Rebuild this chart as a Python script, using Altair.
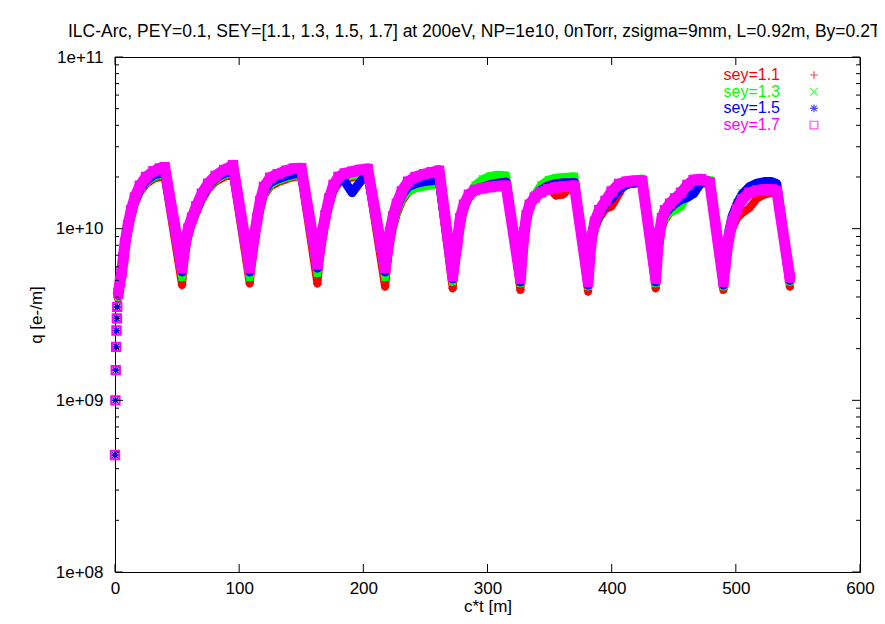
import altair as alt
import pandas as pd

TITLE = "ILC-Arc, PEY=0.1, SEY=[1.1, 1.3, 1.5, 1.7] at 200eV, NP=1e10, 0nTorr, zsigma=9mm, L=0.92m, By=0.2T"
SERIES = ["sey=1.1", "sey=1.3", "sey=1.5", "sey=1.7"]
COLORS = ["#ff0000", "#00ff00", "#0000ff", "#ff00ff"]
X_TICKS = [0, 100, 200, 300, 400, 500, 600]
Y_TICKS = [1e8, 1e9, 1e10, 1e11]
Y_MINOR = [2e8, 3e8, 4e8, 5e8, 6e8, 7e8, 8e8, 9e8,
           2e9, 3e9, 4e9, 5e9, 6e9, 7e9, 8e9, 9e9,
           2e10, 3e10, 4e10, 5e10, 6e10, 7e10, 8e10, 9e10]

# c*t [m]
CT = [0, 0.3, 0.6, 0.9, 1.2, 1.5, 1.8, 2.7, 4, 5.4, 6.7, 8.1, 10.5, 13, 16, 20, 25, 31, 36, 40,
      54, 55.5, 57, 59, 62, 65.5, 70, 75, 81, 88, 95,
      108.5, 110.5, 112.5, 114.5, 117, 120, 125, 131, 138, 144, 150,
      163, 165, 167, 169.5, 172.5, 176, 180, 185, 191, 197, 203.5,
      217.5, 219.5, 221.5, 224, 227, 231, 236, 242, 249, 255, 261,
      272, 273.5, 275.5, 278, 281, 285, 290, 296, 302, 308, 315,
      326.5, 328, 329.5, 331.5, 334, 338, 343, 349, 355, 361, 370,
      381, 382.5, 384, 386.5, 390, 395, 400, 406, 412, 418, 424.5,
      435.5, 437, 438.5, 440.5, 443, 447, 451, 456, 461, 466, 472, 479,
      490, 491.5, 493, 494.5, 497, 501, 505, 511, 517, 523, 529, 533,
      543.5]

# q in units of 1e9 e-/m
Q_11 = [0.48, 1.0, 1.5, 2.05, 2.55, 3.0, 3.5, 3.9, 4.6, 5.2, 6.2, 7.5, 9.5, 11.6, 14.0, 16.3, 18.2, 19.5, 20.0, 20.1,
        4.7, 6.2, 7.6, 9.0, 10.6, 12.4, 14.7, 16.9, 18.8, 20.0, 20.8,
        4.8, 6.5, 8.3, 10.4, 13.0, 15.6, 17.6, 18.6, 19.4, 20.0, 20.2,
        4.8, 6.7, 8.6, 10.9, 13.7, 16.5, 18.4, 19.4, 19.9, 20.3, 20.6,
        4.6, 6.4, 8.2, 10.2, 12.2, 14.4, 16.3, 17.3, 17.9, 18.3, 18.8,
        4.5, 5.8, 7.4, 10.0, 12.8, 15.4, 17.6, 19.0, 19.8, 20.0, 19.8,
        4.4, 6.2, 8.3, 10.8, 13.0, 15.4, 17.5, 17.5, 15.6, 15.8, 18.5,
        4.3, 6.3, 8.2, 10.0, 11.5, 13.0, 13.5, 16.0, 19.0, 18.2, 18.6,
        4.5, 6.5, 8.3, 10.2, 11.3, 12.4, 13.5, 14.8, 16.5, 17.8, 18.5, 18.2,
        4.4, 5.6, 7.0, 8.3, 10.0, 11.5, 12.3, 13.2, 15.0, 15.8, 16.2, 16.4,
        4.6]
Q_13 = [0.48, 1.0, 1.5, 2.05, 2.55, 3.0, 3.5, 4.0, 4.7, 5.3, 6.3, 7.7, 9.7, 11.9, 14.3, 16.6, 18.6, 20.0, 20.5, 20.6,
        5.2, 6.5, 7.9, 9.3, 10.9, 12.7, 15.0, 17.2, 19.2, 20.5, 21.3,
        5.2, 6.8, 8.6, 10.7, 13.4, 16.0, 18.0, 19.0, 19.8, 20.3, 20.5,
        5.5, 7.1, 8.9, 11.2, 14.0, 16.9, 18.8, 19.8, 20.3, 20.7, 21.0,
        5.2, 6.8, 8.6, 10.6, 12.6, 14.8, 16.5, 17.2, 17.6, 17.9, 18.5,
        4.9, 6.0, 7.6, 10.2, 13.0, 15.8, 18.0, 19.5, 20.3, 20.6, 20.5,
        4.8, 6.4, 8.5, 11.0, 13.3, 15.8, 18.0, 19.3, 19.8, 20.0, 20.2,
        4.6, 6.5, 8.4, 10.3, 12.0, 13.8, 15.8, 17.8, 18.6, 19.2, 19.6,
        4.8, 6.8, 8.6, 10.5, 11.6, 12.4, 12.8, 13.5, 15.5, 17.5, 19.0, 19.2,
        4.6, 6.0, 7.6, 9.0, 11.5, 14.2, 16.2, 17.2, 17.5, 17.8, 17.8, 17.5,
        4.9]
Q_15 = [0.48, 1.0, 1.5, 2.05, 2.55, 3.0, 3.5, 4.1, 4.8, 5.4, 6.5, 7.9, 10.0, 12.2, 14.6, 17.0, 19.0, 20.5, 21.0, 21.2,
        5.6, 6.8, 8.2, 9.6, 11.2, 13.0, 15.3, 17.6, 19.6, 21.0, 21.8,
        5.6, 7.1, 8.9, 11.0, 13.8, 16.5, 18.6, 19.5, 20.3, 20.8, 21.0,
        5.9, 7.4, 9.2, 11.5, 14.4, 17.3, 19.2, 18.8, 16.2, 18.6, 21.0,
        5.6, 7.2, 9.1, 11.2, 13.3, 15.6, 17.5, 18.3, 18.8, 19.0, 19.5,
        5.1, 6.3, 8.0, 11.0, 13.4, 15.4, 16.6, 17.4, 18.0, 18.4, 18.7,
        4.9, 6.8, 9.0, 11.5, 13.5, 15.3, 16.8, 17.8, 18.3, 18.5, 18.6,
        4.7, 6.7, 8.6, 10.5, 12.2, 13.8, 15.0, 17.0, 18.0, 18.6, 18.8,
        4.9, 7.0, 9.0, 11.0, 12.2, 13.2, 14.0, 14.8, 15.2, 16.0, 18.5, 18.5,
        4.7, 6.5, 8.3, 9.8, 11.8, 14.0, 15.8, 17.6, 18.4, 18.8, 18.8, 18.3,
        5.0]
Q_17 = [0.48, 1.0, 1.5, 2.05, 2.55, 3.0, 3.5, 4.2, 4.9, 5.6, 6.8, 8.3, 10.5, 12.8, 15.2, 17.8, 20.0, 21.6, 22.4, 22.8,
        5.9, 7.2, 8.6, 10.0, 11.6, 13.5, 16.0, 18.3, 20.3, 22.0, 23.4,
        5.9, 7.5, 9.3, 11.5, 14.5, 17.5, 19.8, 20.8, 21.8, 22.4, 22.5,
        6.2, 7.8, 9.6, 12.0, 15.0, 18.0, 20.0, 21.0, 21.5, 22.0, 22.3,
        5.9, 7.6, 9.6, 11.8, 14.0, 16.5, 18.8, 20.0, 20.8, 21.3, 21.8,
        5.3, 6.5, 8.2, 11.5, 13.8, 15.8, 16.8, 17.2, 17.5, 17.7, 17.8,
        5.1, 7.2, 9.5, 12.0, 13.8, 15.2, 16.3, 17.0, 17.4, 17.6, 17.8,
        4.9, 7.0, 9.0, 11.0, 12.8, 14.5, 16.5, 18.2, 18.8, 19.0, 19.0,
        5.1, 7.5, 9.5, 11.5, 12.8, 14.0, 15.0, 16.2, 18.0, 19.2, 19.4, 18.6,
        4.9, 6.2, 7.8, 9.0, 11.0, 13.0, 14.8, 16.2, 16.7, 16.9, 16.9, 16.6,
        5.2]

VALUES = [Q_11, Q_13, Q_15, Q_17]

W, H = 745, 515
FONT = "Liberation Sans"
FS = 17

PLUS = "M-1,0L1,0M0,-1L0,1"
CROSS = "M-1,-1L1,1M-1,1L1,-1"
STAR = "M-1,0L1,0M0,-1L0,1M-0.7,-0.7L0.7,0.7M-0.7,0.7L0.7,-0.7"
SHAPES = [PLUS, CROSS, STAR, "square"]
LINE_W = [8, 8, 9, 11]
PT_SIZE = [70, 50, 60, 70]
PT_SW = [1.5, 1.2, 1.2, 2.0]

xscale = alt.Scale(domain=[0, 600], nice=False, zero=False)
yscale = alt.Scale(type="log", domain=[1e8, 1e11], nice=False)
xaxis = alt.Axis(values=X_TICKS, format="d", grid=False, ticks=False, domain=False,
                 labelPadding=8, titlePadding=2, labelFlush=False,
                 labelFont=FONT, labelFontSize=FS, labelColor="black",
                 titleFont=FONT, titleFontSize=FS, titleFontWeight="normal", titleColor="black")
yaxis = alt.Axis(values=Y_TICKS, grid=False, ticks=False, domain=False,
                 labelExpr="'1e+' + format(round(log(datum.value)/LN10), '02d')",
                 labelPadding=12, titlePadding=10,
                 labelFont=FONT, labelFontSize=FS, labelColor="black",
                 titleFont=FONT, titleFontSize=FS, titleFontWeight="normal", titleColor="black")

X = alt.X("ct:Q", scale=xscale, axis=xaxis, title="c*t [m]")
Y = alt.Y("q:Q", scale=yscale, axis=yaxis, title="q [e-/m]")

layers = []
for i, (name, vals) in enumerate(zip(SERIES, VALUES)):
    df = pd.DataFrame({"ct": CT, "q": [v * 1e9 for v in vals], "series": name})
    line = alt.Chart(df).transform_filter("datum.ct >= 2.5").mark_line(
        color=COLORS[i], strokeWidth=LINE_W[i], strokeJoin="round", strokeCap="round"
    ).encode(x=X, y=Y)
    pts = alt.Chart(df).mark_point(
        shape=SHAPES[i], filled=False, color=COLORS[i], size=PT_SIZE[i],
        strokeWidth=PT_SW[i], opacity=1
    ).encode(x=X, y=Y)
    layers += [line, pts]

# inward ticks (gnuplot style) on all four sides
ymaj = pd.DataFrame({"q": Y_TICKS})
ymin = pd.DataFrame({"q": Y_MINOR})
xmaj = pd.DataFrame({"ct": X_TICKS})
tick = dict(color="black", strokeWidth=1)
layers += [
    alt.Chart(ymaj).mark_rule(**tick).encode(y=Y, x=alt.value(0), x2=alt.value(8)),
    alt.Chart(ymaj).mark_rule(**tick).encode(y=Y, x=alt.value(W), x2=alt.value(W - 8)),
    alt.Chart(ymin).mark_rule(**tick).encode(y=Y, x=alt.value(0), x2=alt.value(4)),
    alt.Chart(ymin).mark_rule(**tick).encode(y=Y, x=alt.value(W), x2=alt.value(W - 4)),
    alt.Chart(xmaj).mark_rule(**tick).encode(x=X, y=alt.value(H), y2=alt.value(H - 8)),
    alt.Chart(xmaj).mark_rule(**tick).encode(x=X, y=alt.value(0), y2=alt.value(8)),
]

# legend (text right-aligned, symbol to the right)
for i, name in enumerate(SERIES):
    ldf = pd.DataFrame({"label": [name]})
    yy = 18 + i * 16.7
    layers.append(alt.Chart(ldf).mark_text(
        align="right", baseline="middle", font=FONT, fontSize=16, color=COLORS[i]
    ).encode(text="label:N", x=alt.value(665), y=alt.value(yy)))
    layers.append(alt.Chart(ldf).mark_point(
        shape=SHAPES[i], filled=False, color=COLORS[i], size=60, strokeWidth=1.2
    ).encode(x=alt.value(699), y=alt.value(yy)))

chart = alt.layer(*layers).properties(
    width=W, height=H,
    background="white",
    title=alt.Title(TITLE, anchor="start", frame="group", dx=-47, offset=8, font=FONT,
                    fontSize=17.5, fontWeight="normal", color="black"),
    autosize=alt.AutoSizeParams(type="none"),
    padding={"left": 107, "top": 49, "right": 17, "bottom": 44},
).configure_view(
    stroke="black", strokeWidth=1
)

chart.save("out.html", embed_options={"renderer": "svg", "actions": False})
